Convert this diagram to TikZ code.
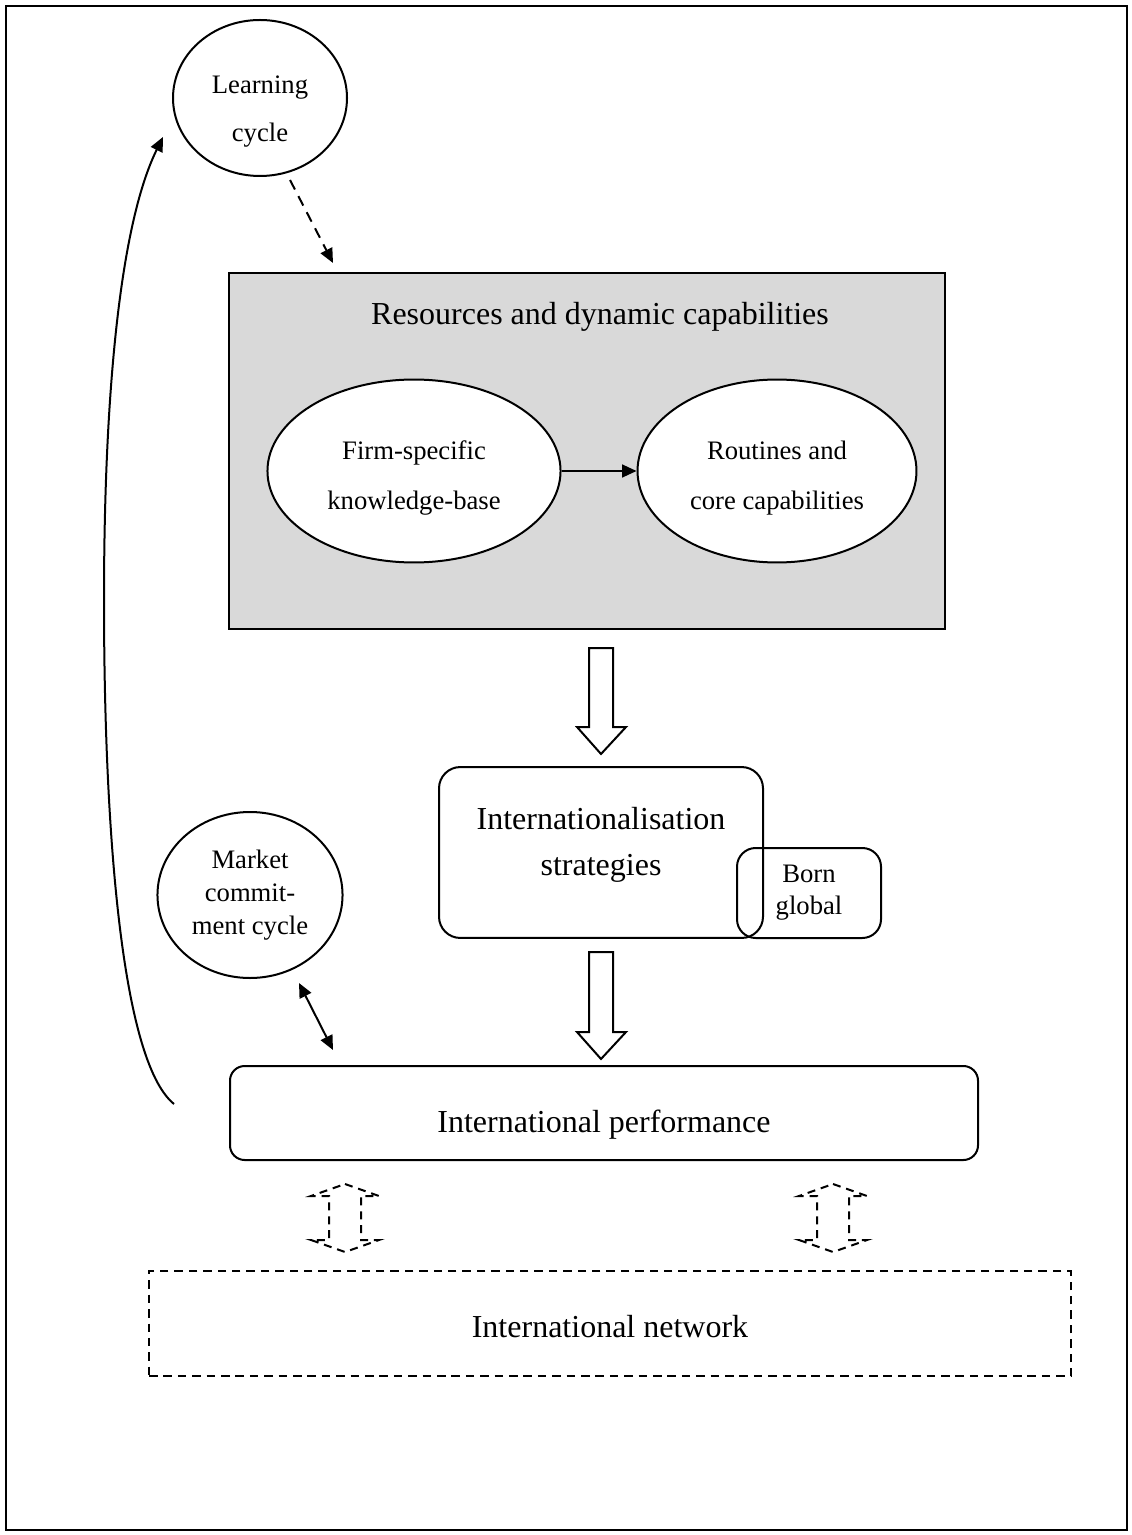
\documentclass[tikz,border=0pt]{standalone}
\usepackage{fontspec}
\setmainfont{Liberation Serif}
\usetikzlibrary{shapes.geometric,arrows.meta}
\definecolor{boxgray}{RGB}{217,217,217}
\newcommand{\shiftby}[2]{\raisebox{#1}[\height][\depth]{\begin{tabular}{@{}c@{}}#2\end{tabular}}}
\begin{document}
\begin{tikzpicture}[x=0.375pt,y=-0.375pt,
  line width=0.75pt,
  arr/.style={-{Triangle[length=5.4pt,width=4.8pt]}},
  dblarr/.style={{Triangle[length=5.4pt,width=4.8pt]}-{Triangle[length=5.4pt,width=4.8pt]}},
  bigtext/.style={font=\fontsize{12}{14}\selectfont},
  oval/.style={ellipse, draw, fill=white, inner sep=0pt, align=center},
  rbox/.style={draw, rectangle, align=center},
  blockarrow/.style={draw, fill=white, line width=0.75pt, line join=miter},
  dashblock/.style={draw, line width=0.75pt, dash pattern=on 3pt off 2.2pt}
]
\useasboundingbox (0,0) rectangle (1131,1535);
\draw[line width=0.5pt] (6,6) rectangle (1127,1530);

% learning cycle
\node[oval, minimum width=65.25pt, minimum height=58.5pt, font=\fontsize{10}{18}\selectfont] (learn) at (260,98) {\shiftby{-3.75pt}{Learning\\cycle}};

% resources box
\node[rbox, fill=boxgray, line width=0.8pt, minimum width=268.5pt, minimum height=133.5pt] (res) at (587,451) {};
\node[bigtext] (restitle) at (600,317) {Resources and dynamic capabilities};
\node[oval, minimum width=109.9pt, minimum height=68.6pt, font=\fontsize{10}{18.75}\selectfont] (firm) at (414,471) {\shiftby{-1.5pt}{Firm-specific\\knowledge-base}};
\node[oval, minimum width=104.6pt, minimum height=68.6pt, font=\fontsize{10}{18.75}\selectfont] (rout) at (777,471) {\shiftby{-1.5pt}{Routines and\\core capabilities}};
\draw[arr] (firm) -- (rout);

% dashed arrow from learning cycle
\coordinate (ldash1) at (290,180);
\coordinate (ldash2) at (333,263);
\draw[arr, dash pattern=on 4pt off 2.8pt] (ldash1) -- (ldash2);

% block arrow 1
\path[blockarrow] (589,648) -- (613,648) -- (613,727) -- (626,727) -- (601,754) -- (577,727) -- (589,727) -- cycle;

% internationalisation strategies
\node[rbox, rounded corners=8pt, minimum width=121.5pt, minimum height=64.1pt, font=\fontsize{12}{17.25}\selectfont] (intl) at (601,852.5) {\shiftby{3.4pt}{Internationalisation\\strategies}};
\node[rbox, rounded corners=7pt, minimum width=54pt, minimum height=33.75pt, font=\fontsize{10}{12}\selectfont] (born) at (809,893) {Born\\global};

% block arrow 2
\path[blockarrow] (589,952) -- (613,952) -- (613,1032) -- (626,1032) -- (601,1059) -- (577,1032) -- (589,1032) -- cycle;

% market commitment cycle
\node[oval, minimum width=69.4pt, minimum height=62.25pt, font=\fontsize{10}{12.4}\selectfont] (mkt) at (250,895) {Market\\commit-\\ment cycle};
\coordinate (m1) at (299,983);
\coordinate (m2) at (333,1050);
\draw[dblarr] (m1) -- (m2);

% international performance
\node[rbox, rounded corners=5.5pt, minimum width=280.5pt, minimum height=35.25pt, bigtext] (perf) at (604,1113) {\shiftby{-4.5pt}{International performance}};

% learning feedback curve
\coordinate (lstart) at (174,1104);
\coordinate (ltip) at (163,137);
\draw[arr] (lstart) .. controls (120,1060) and (104,820) .. (104,600) .. controls (104,380) and (122,220) .. (ltip);

% dashed double block arrows
\foreach \cx in {345, 833}{
  \path[dashblock] (\cx,1184) -- (\cx+34,1196) -- (\cx+16,1196) -- (\cx+16,1240) -- (\cx+34,1240) -- (\cx,1252) -- (\cx-34,1240) -- (\cx-16,1240) -- (\cx-16,1196) -- (\cx-34,1196) -- cycle;
}

% international network
\node[rbox, line width=1pt, dash pattern=on 3.2pt off 2.2pt, minimum width=345.75pt, minimum height=39.4pt, bigtext] (net) at (610,1323.5) {\shiftby{-2.6pt}{International network}};
\end{tikzpicture}
\end{document}
